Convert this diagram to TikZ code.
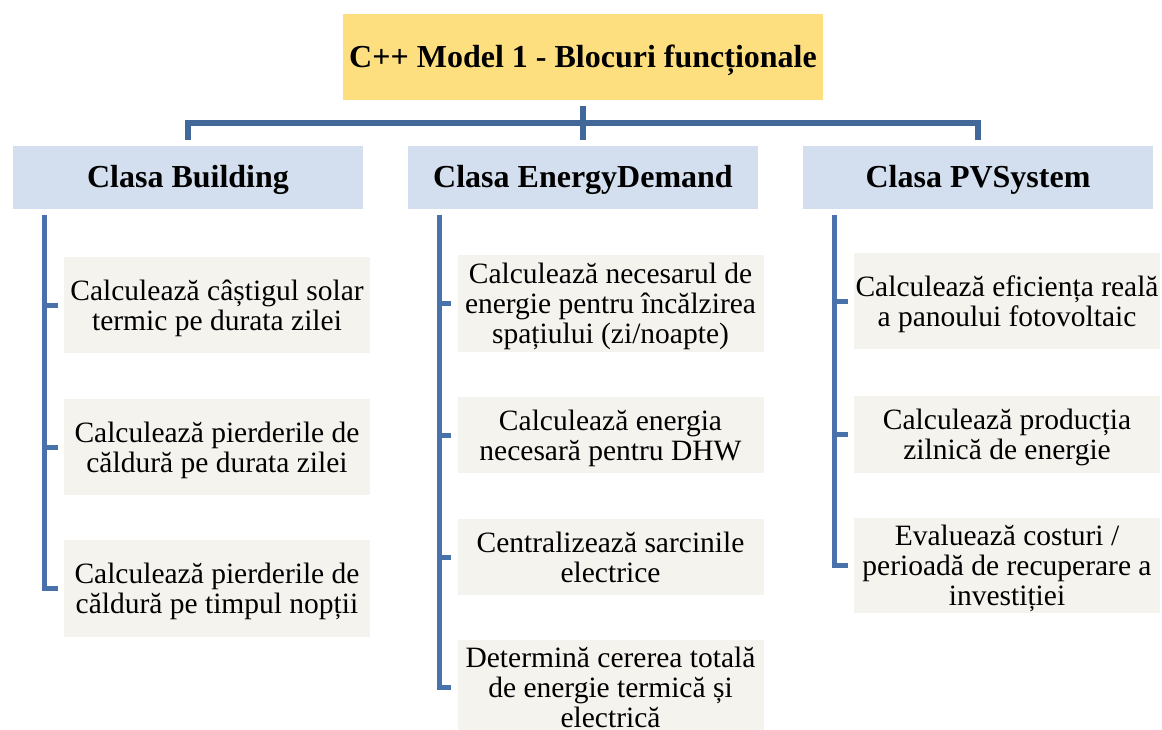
\documentclass[tikz,border=0pt]{standalone}
\usepackage{fontspec}
\setmainfont{Liberation Serif}
\usetikzlibrary{calc}

\begin{document}
\begin{tikzpicture}[x=1pt,y=-1pt]
\definecolor{Title_yellow}{RGB}{254,223,128}
\definecolor{Class_blue}{RGB}{211,223,238}
\definecolor{Task_grey}{RGB}{244,243,238}
\definecolor{Line_dark}{RGB}{65,104,153}
\definecolor{Line_blue}{RGB}{74,114,170}
\tikzset{
    titlebox/.style={rectangle, fill=Title_yellow, minimum width=480pt, minimum height=86pt, inner sep=0pt, text height=28pt, text depth=7.5pt, font=\fontsize{32}{36}\selectfont\bfseries},
    classbox/.style={rectangle, fill=Class_blue, minimum width=350pt, minimum height=63pt, inner sep=0pt, text height=28pt, text depth=7.5pt, font=\fontsize{32}{36}\selectfont\bfseries},
    taskbox/.style={rectangle, fill=Task_grey, minimum width=306pt, inner sep=0pt, text depth=0pt, align=center, font=\fontsize{29.5}{30}\selectfont},
    trunk/.style={draw=Line_dark, line width=6pt},
    branch/.style={draw=Line_blue, line width=5pt}
}
\useasboundingbox (0,0) rectangle (1162,730);

% Titlu
\node[titlebox] (title) at (583,57) {C++ Model 1 - Blocuri funcționale};

% Clase
\node[classbox] (building) at (188,177.5) {Clasa Building};
\node[classbox] (energy) at (583,177.5) {Clasa EnergyDemand};
\node[classbox] (pvsystem) at (978,177.5) {Clasa PVSystem};

% Legaturi titlu -> clase
\coordinate (bus) at ($(title.south)!0.5!(energy.north)$);
\draw[trunk] ([yshift=-6pt]title.south) -- ([yshift=6pt]energy.north);
\draw[trunk] ([yshift=6pt]building.north) |- (bus) -| ([yshift=6pt]pvsystem.north);

% Building
\foreach \i/\y/\h/\txt in {1/305/96/{Calculează câștigul solar\\termic pe durata zilei},
                           2/447/96/{Calculează pierderile de\\căldură pe durata zilei},
                           3/588.5/97/{Calculează pierderile de\\căldură pe timpul nopții}} {
    \node[taskbox, minimum height=\h pt] (bld\i) at (217,\y) {\txt};
}

% EnergyDemand
\foreach \i/\y/\h/\txt in {1/303.5/97/{Calculează necesarul de\\energie pentru încălzirea\\spațiului (zi/noapte)},
                           2/435/76/{Calculează energia\\necesară pentru DHW},
                           3/557/76/{Centralizează sarcinile\\electrice},
                           4/687/94/{Determină cererea totală\\de energie termică și\\electrică}} {
    \node[taskbox, minimum height=\h pt] (dem\i) at (610.5,\y) {\txt};
}

% PVSystem
\foreach \i/\y/\h/\txt in {1/301/96/{Calculează eficiența reală\\a panoului fotovoltaic},
                           2/434.5/77/{Calculează producția\\zilnică de energie},
                           3/565.5/95/{Evaluează costuri /\\perioadă de recuperare a\\investiției}} {
    \node[taskbox, minimum height=\h pt] (pv\i) at (1007,\y) {\txt};
}

% Bare laterale
\draw[branch] ([xshift=32pt,yshift=-6pt]building.south west) |- ([xshift=-6pt]bld3.west);
\foreach \i in {1,2} {
    \draw[branch] ([xshift=-19pt]bld\i.west) -- ([xshift=-6pt]bld\i.west);
}
\draw[branch] ([xshift=32pt,yshift=-6pt]energy.south west) |- ([xshift=-6pt]dem4.west);
\foreach \i in {1,2,3} {
    \draw[branch] ([xshift=-19pt]dem\i.west) -- ([xshift=-6pt]dem\i.west);
}
\draw[branch] ([xshift=32pt,yshift=-6pt]pvsystem.south west) |- ([xshift=-6pt]pv3.west);
\foreach \i in {1,2} {
    \draw[branch] ([xshift=-19pt]pv\i.west) -- ([xshift=-6pt]pv\i.west);
}

\end{tikzpicture}
\end{document}
